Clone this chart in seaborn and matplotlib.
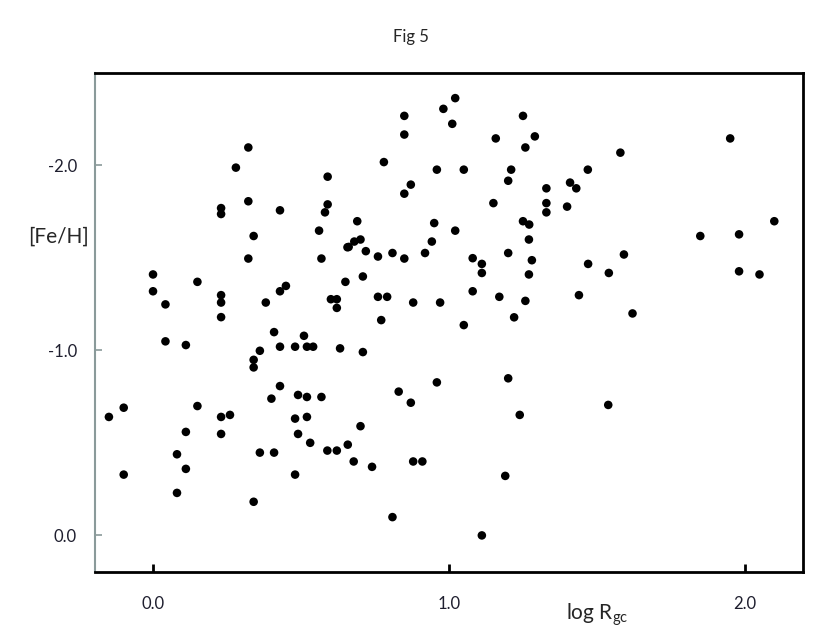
import matplotlib
matplotlib.use("Agg")
import matplotlib.pyplot as plt
import seaborn as sns
import pandas as pd

log_rgc = [
    0.322, 0.280, 0.590, 0.230, 0.230, 0.322, 0.429, 0.590, 0.581, 0.340,
    0.561, 0.657, 0.322, 0.569, 0.000, 0.150, 0.000, 0.650, 0.429, 0.449,
    0.042, 0.230, 0.230, 0.381, 0.601, 0.621, 0.621, 0.230, 0.042, 0.111,
    0.409, 0.510, 0.429, 0.480, 0.520, 0.541, 0.632, 0.361, 0.340, 0.340,
    0.429, 0.400, 0.490, 0.520, 0.569, -0.149, -0.099, 0.150, 0.230, 0.260,
    0.480, 0.520, 0.111, 0.230, 0.490, 0.531, 0.658, 0.081, 0.361, 0.409,
    0.589, 0.621, -0.099, 0.111, 0.480, 0.081, 0.340,
    1.021, 0.981, 0.849, 1.250, 1.011, 0.849, 1.290, 1.158, 1.258, 0.780,
    0.959, 1.050, 1.210, 1.469, 1.200, 0.871, 0.849, 1.329, 1.409, 1.430,
    1.329, 1.329, 1.399, 1.150, 0.690, 0.950, 1.250, 1.271, 1.021, 1.270,
    0.661, 0.680, 0.701, 0.719, 0.760, 0.809, 0.849, 0.919, 0.942, 1.080,
    1.111, 1.111, 1.200, 1.280, 1.270, 1.470, 0.709, 0.760, 0.791, 0.879,
    0.970, 1.080, 1.170, 1.258, 1.439, 0.771, 1.220, 1.050, 0.709, 0.959,
    1.200, 0.830, 0.871, 1.239, 0.701, 0.678, 0.740, 0.879, 0.910, 1.190,
    0.809, 1.111,
    1.950, 1.579, 2.099, 1.849, 1.980, 1.591, 1.540, 1.980, 2.049, 1.620,
    1.538,
]

fe_h = [
    -2.097, -1.988, -1.939, -1.769, -1.737, -1.806, -1.757, -1.789, -1.746, -1.618,
    -1.647, -1.557, -1.496, -1.496, -1.410, -1.370, -1.319, -1.370, -1.319, -1.348,
    -1.248, -1.298, -1.258, -1.258, -1.276, -1.276, -1.229, -1.179, -1.048, -1.028,
    -1.098, -1.078, -1.019, -1.019, -1.019, -1.019, -1.010, -0.997, -0.948, -0.907,
    -0.806, -0.738, -0.758, -0.747, -0.747, -0.639, -0.689, -0.698, -0.639, -0.650,
    -0.630, -0.639, -0.558, -0.547, -0.547, -0.499, -0.489, -0.437, -0.446, -0.446,
    -0.457, -0.457, -0.327, -0.358, -0.327, -0.228, -0.180,
    -2.364, -2.306, -2.268, -2.268, -2.225, -2.167, -2.157, -2.146, -2.097, -2.018,
    -1.977, -1.977, -1.977, -1.977, -1.917, -1.896, -1.847, -1.876, -1.907, -1.876,
    -1.796, -1.746, -1.777, -1.796, -1.698, -1.688, -1.698, -1.680, -1.647, -1.599,
    -1.559, -1.588, -1.599, -1.536, -1.507, -1.526, -1.496, -1.526, -1.588, -1.498,
    -1.467, -1.418, -1.526, -1.487, -1.410, -1.467, -1.399, -1.289, -1.289, -1.258,
    -1.258, -1.319, -1.289, -1.267, -1.298, -1.163, -1.178, -1.136, -0.990, -0.826,
    -0.848, -0.776, -0.716, -0.650, -0.589, -0.398, -0.369, -0.398, -0.398, -0.320,
    -0.097, 0.002,
    -2.146, -2.069, -1.698, -1.618, -1.627, -1.518, -1.418, -1.427, -1.410, -1.199,
    -0.704,
]

x_ticks = [0.0, 1.0, 2.0]
x_tick_labels = ["0.0", "1.0", "2.0"]
y_ticks = [-2.0, -1.0, 0.0]
y_tick_labels = ["-2.0", "-1.0", "0.0"]

df = pd.DataFrame({"log_rgc": log_rgc, "fe_h": fe_h})

sns.set_style("white")
plt.rcParams["font.family"] = ["Lato", "DejaVu Sans"]

fig = plt.figure(figsize=(8.3, 6.42), dpi=100)
ax = fig.add_axes([95 / 830, 70 / 642, 708 / 830, 499 / 642])

sns.scatterplot(data=df, x="log_rgc", y="fe_h", ax=ax, color="black",
                s=38, edgecolor="none", linewidth=0, legend=False)

ax.set_xlim(-0.196, 2.196)
ax.set_ylim(0.2, -2.5)

ax.set_xticks(x_ticks)
ax.set_xticklabels(x_tick_labels)
ax.set_yticks(y_ticks)
ax.set_yticklabels(y_tick_labels)

grey = "#8a9a9a"
for side in ["top", "right", "bottom"]:
    ax.spines[side].set_color("black")
    ax.spines[side].set_linewidth(2.0)
ax.spines["left"].set_color(grey)
ax.spines["left"].set_linewidth(1.5)

ax.tick_params(axis="x", which="major", bottom=True, top=False,
               direction="in", length=6, width=2, color="black",
               pad=17, labelsize=12, labelcolor="#1f1f2f")
ax.tick_params(axis="y", which="major", left=True, right=False,
               direction="in", length=5, width=1.2, color=grey,
               pad=13, labelsize=12, labelcolor="#1f1f2f")

ax.set_xlabel(r"log R$_{\mathregular{gc}}$", fontsize=15)
ax.xaxis.set_label_coords(0.71, -0.058)
ax.set_ylabel("[Fe/H]", fontsize=15, rotation=0, ha="center", va="center")
ax.yaxis.set_label_coords(-0.052, 0.671)

fig.text(411 / 830, 1 - 37 / 642, "Fig 5", ha="center", va="center", fontsize=12)

fig.savefig("out.png", dpi=100)
